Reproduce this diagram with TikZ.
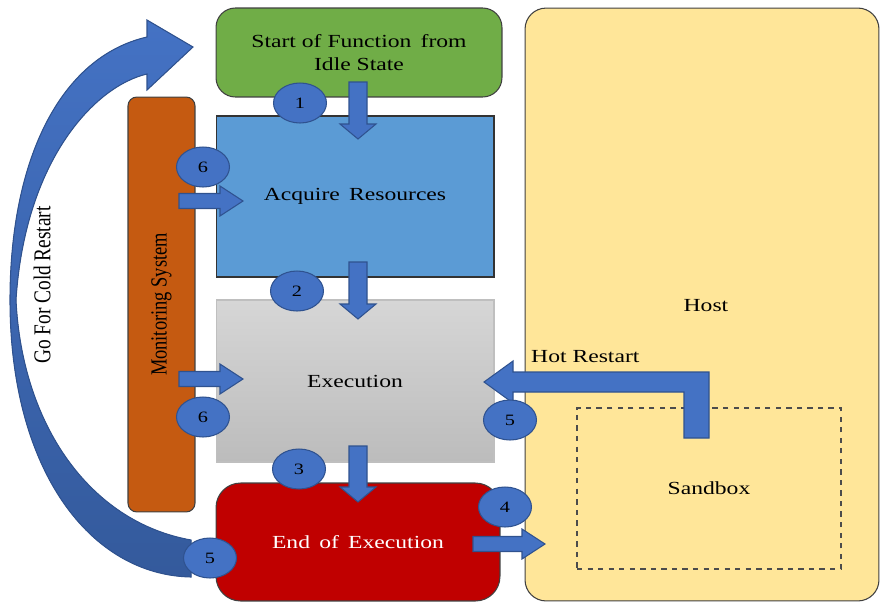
\documentclass[tikz,border=0pt]{standalone}
\usepackage{fontspec}
\setmainfont{Liberation Serif}[FakeStretch=1.28]
\newfontfamily\plainserif{Liberation Serif}
\usepackage{tikz}
\usetikzlibrary{shapes,arrows,positioning,calc}

\definecolor{startgreen}{RGB}{112,173,71}
\definecolor{acqblue}{RGB}{91,155,213}
\definecolor{execlight}{RGB}{214,214,214}
\definecolor{execdark}{RGB}{188,188,188}
\definecolor{endred}{RGB}{192,0,0}
\definecolor{monorange}{RGB}{197,90,17}
\definecolor{hostyellow}{RGB}{255,230,153}
\definecolor{arrowblue}{RGB}{68,114,196}
\definecolor{arrowdark}{RGB}{47,82,143}
\definecolor{colddark}{RGB}{52,90,156}

\tikzset{
  box/.style={draw=black!75, line width=0.6pt, inner sep=0pt,
    font=\fontsize{10.5}{13}\selectfont, align=center},
  numcirc/.style={ellipse, draw=arrowdark, line width=0.6pt, fill=arrowblue,
    minimum width=1.06cm, minimum height=0.8cm, inner sep=0pt,
    font=\fontsize{9}{10}\selectfont},
  blockarrow/.style={fill=arrowblue, draw=arrowdark, line width=0.6pt},
  lbl/.style={font=\fontsize{10.5}{13}\selectfont},
  sidelbl/.style={rotate=90, font=\plainserif\fontsize{10.5}{13}\selectfont}
}

% block arrows: down (x centre, top, tip) and right (left, tip, y centre)
\newcommand{\downblock}[3]{%
  \draw[blockarrow] ({#1-9},#2) -- ({#1+9},#2) -- ({#1+9},{#3-15}) -- ({#1+18},{#3-15})
    -- (#1,#3) -- ({#1-18},{#3-15}) -- ({#1-9},{#3-15}) -- cycle;}
\newcommand{\rightblock}[3]{%
  \draw[blockarrow] (#1,{#3-7.5}) -- ({#2-23},{#3-7.5}) -- ({#2-23},{#3-15}) -- (#2,#3)
    -- ({#2-23},{#3+15}) -- ({#2-23},{#3+7.5}) -- (#1,{#3+7.5}) -- cycle;}

\begin{document}
\begin{tikzpicture}[x=0.02cm, y=-0.02cm]
  \useasboundingbox (0,0) rectangle (880,603);

  % Host and sandbox
  \node[box, fill=hostyellow, rounded corners=12pt, minimum width=7.08cm,
    minimum height=11.86cm] (host) at (702,304.5) {};
  \node[lbl] (hosttext) at (706,306) {Host};
  \node[box, draw=black!70, dashed, line width=0.9pt, minimum width=5.28cm,
    minimum height=3.22cm] (sandbox) at (709,488.5) {Sandbox};

  % Function life cycle
  \node[box, fill=startgreen, rounded corners=11pt, minimum width=5.72cm,
    minimum height=1.78cm] (start) at (359,52.5) {Start of Function\enspace from\\Idle State};
  \node[box, fill=acqblue, draw=black!80, minimum width=5.56cm,
    minimum height=3.22cm] (acquire) at (355,196.5) {Acquire\enspace Resources};
  \node[box, top color=execlight, bottom color=execdark, draw=black!25,
    minimum width=5.56cm, minimum height=3.24cm] (exec) at (355,381) {Execution};
  \node[box, fill=endred, text=white, rounded corners=14pt, minimum width=5.68cm,
    minimum height=2.36cm] (endex) at (358,542) {End\enspace of\enspace Execution};

  % Monitoring system
  \node[box, fill=monorange, rounded corners=5pt, minimum width=1.34cm,
    minimum height=8.3cm] (monitor) at (161.5,304.5) {};
  \node[sidelbl] (montext) at (monitor) {\scalebox{1}[1.25]{Monitoring System}};

  % Cold restart
  \filldraw[top color=arrowblue, bottom color=colddark, draw=arrowdark, line width=0.6pt]
    (191,577) .. controls (90,575) and (10,470) .. (10,300)
    .. controls (10,160) and (60,57) .. (147,37) -- (147,20) -- (193,47)
    -- (147,90) -- (147,74) .. controls (95,86) and (25,160) .. (16,300)
    .. controls (22,425) and (90,522) .. (191,540) -- cycle;
  \node[sidelbl, font=\plainserif\fontsize{11}{13}\selectfont] (coldtext)
    at (42,285) {\scalebox{1}[1.25]{Go For Cold Restart}};

  % Steps
  \downblock{358}{82}{139}
  \downblock{358}{262}{319}
  \downblock{358}{446}{502}
  \rightblock{179}{243}{201}
  \rightblock{179}{243}{379}
  \rightblock{473}{545}{544}

  % Hot restart
  \draw[blockarrow] (484,382) -- (513,361) -- (513,372) -- (709,372) -- (709,438)
    -- (684,438) -- (684,392) -- (513,392) -- (513,403) -- cycle;
  \node[lbl, anchor=south west] (hottext) at (525,369) {Hot Restart};

  \node[numcirc] (c1) at (300,103) {1};
  \node[numcirc] (c6a) at (203,167) {6};
  \node[numcirc] (c2) at (297,291) {2};
  \node[numcirc] (c6b) at (203,417) {6};
  \node[numcirc] (c3) at (299,469) {3};
  \node[numcirc] (c5a) at (510,420) {5};
  \node[numcirc] (c4) at (505,507) {4};
  \node[numcirc] (c5b) at (210,558) {5};
\end{tikzpicture}
\end{document}
